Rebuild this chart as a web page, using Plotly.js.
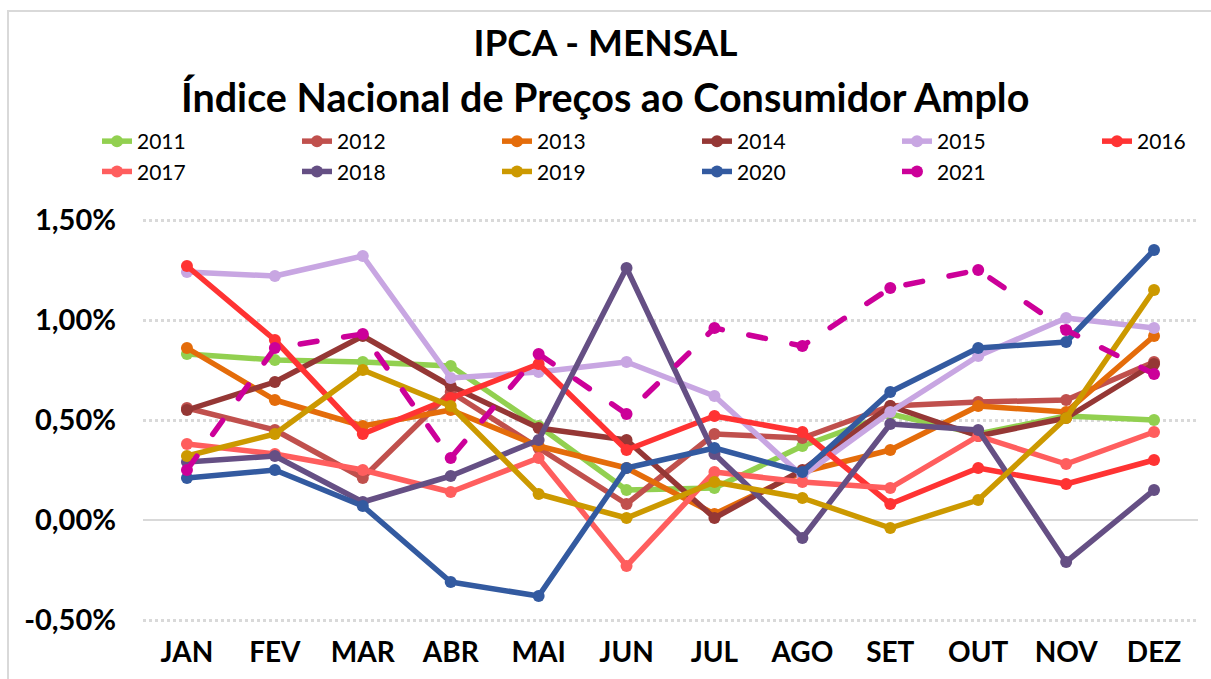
<!DOCTYPE html>
<html>
<head>
<meta charset="utf-8">
<script src="https://cdn.plot.ly/plotly-3.0.1.min.js"></script>
<style>
  html, body { margin: 0; padding: 0; background: #fff; }
  #frame { position: absolute; left: 7px; top: 10px; width: 1211px; height: 679px; border: 2px solid #d9d9d9; box-sizing: border-box; pointer-events: none; }
  #chart { position: absolute; left: 0; top: 0; width: 1211px; height: 679px; }
  #chart .scatterlayer .js-line { stroke-linecap: round; stroke-linejoin: round; }
</style>
</head>
<body>
<div id="chart"></div>
<div id="frame"></div>
<script>
const months = ["JAN","FEV","MAR","ABR","MAI","JUN","JUL","AGO","SET","OUT","NOV","DEZ"];
const years = ["2011","2012","2013","2014","2015","2016","2017","2018","2019","2020","2021"];
const yTickVals = [-0.005, 0, 0.005, 0.01, 0.015];
const yTickText = ["-0,50%", "0,00%", "0,50%", "1,00%", "1,50%"];

const y2011 = [0.83, 0.80, 0.79, 0.77, 0.47, 0.15, 0.16, 0.37, 0.53, 0.43, 0.52, 0.50];
const y2012 = [0.56, 0.45, 0.21, 0.64, 0.36, 0.08, 0.43, 0.41, 0.57, 0.59, 0.60, 0.79];
const y2013 = [0.86, 0.60, 0.47, 0.55, 0.37, 0.26, 0.03, 0.24, 0.35, 0.57, 0.54, 0.92];
const y2014 = [0.55, 0.69, 0.92, 0.67, 0.46, 0.40, 0.01, 0.25, 0.57, 0.42, 0.51, 0.78];
const y2015 = [1.24, 1.22, 1.32, 0.71, 0.74, 0.79, 0.62, 0.22, 0.54, 0.82, 1.01, 0.96];
const y2016 = [1.27, 0.90, 0.43, 0.61, 0.78, 0.35, 0.52, 0.44, 0.08, 0.26, 0.18, 0.30];
const y2017 = [0.38, 0.33, 0.25, 0.14, 0.31, -0.23, 0.24, 0.19, 0.16, 0.42, 0.28, 0.44];
const y2018 = [0.29, 0.32, 0.09, 0.22, 0.40, 1.26, 0.33, -0.09, 0.48, 0.45, -0.21, 0.15];
const y2019 = [0.32, 0.43, 0.75, 0.57, 0.13, 0.01, 0.19, 0.11, -0.04, 0.10, 0.51, 1.15];
const y2020 = [0.21, 0.25, 0.07, -0.31, -0.38, 0.26, 0.36, 0.24, 0.64, 0.86, 0.89, 1.35];
const y2021 = [0.25, 0.86, 0.93, 0.31, 0.83, 0.53, 0.96, 0.87, 1.16, 1.25, 0.95, 0.73];

const seriesValues = [y2011, y2012, y2013, y2014, y2015, y2016, y2017, y2018, y2019, y2020, y2021];
const colors = ["#92D050","#C0504D","#E46C0A","#953735","#C8A6E2","#FF3333","#FF5E5E","#654F84","#CC9900","#335AA0","#CC0099"];

const FONT = "Lato, 'Open Sans', sans-serif";

const traces = years.map((yr, i) => ({
  type: "scatter",
  mode: "lines+markers",
  name: yr,
  x: months,
  y: seriesValues[i].map(v => v / 100),
  line: { color: colors[i], width: 5.5, dash: yr === "2021" ? "17px,27px" : "solid" },
  marker: { color: colors[i], size: 12, symbol: "circle" },
  hoverinfo: "x+y+name"
}));

const layout = {
  width: 1211,
  height: 679,
  paper_bgcolor: "#ffffff",
  plot_bgcolor: "#ffffff",
  margin: { l: 143, r: 13, t: 218, b: 57, autoexpand: false },
  font: { family: FONT, color: "#000" },
  separators: ",.",
  title: {
    text: "<b>IPCA - MENSAL</b>",
    font: { family: FONT, size: 37, color: "#000" },
    x: 0.5, xref: "container", xanchor: "center",
    y: 1 - 43/679, yref: "container", yanchor: "middle"
  },
  annotations: [{
    text: "<b>Índice Nacional de Preços ao Consumidor Amplo</b>",
    xref: "paper", yref: "paper",
    x: (605 - 143) / 1055, y: (622 - 97) / 404,
    xanchor: "center", yanchor: "middle",
    showarrow: false,
    font: { family: FONT, size: 39.5, color: "#000" }
  }],
  showlegend: true,
  legend: {
    orientation: "h",
    xref: "paper", yref: "paper",
    x: (97 - 143) / 1055, y: (622 - 121) / 404,
    xanchor: "left", yanchor: "top",
    entrywidth: 155, entrywidthmode: "pixels",
    font: { family: FONT, size: 21, color: "#000" },
    traceorder: "normal",
    bgcolor: "rgba(0,0,0,0)"
  },
  xaxis: {
    type: "category",
    range: [-0.5, 11.5],
    showgrid: false,
    zeroline: false,
    showline: false,
    ticks: "",
    tickfont: { family: FONT, size: 28, color: "#000", weight: "bold" },
    ticklabelstandoff: 11
  },
  yaxis: {
    range: [-0.0051, 0.0151],
    tickvals: yTickVals,
    ticktext: yTickText,
    showgrid: true,
    gridcolor: "#d9d9d9",
    gridwidth: 3,
    griddash: "dot",
    zeroline: true,
    zerolinecolor: "#d9d9d9",
    zerolinewidth: 2,
    showline: false,
    ticks: "",
    ticklabelstandoff: 26,
    tickfont: { family: FONT, size: 29, color: "#000", weight: "bold" }
  }
};

Plotly.newPlot("chart", traces, layout, { displayModeBar: false, responsive: false });
</script>
</body>
</html>
